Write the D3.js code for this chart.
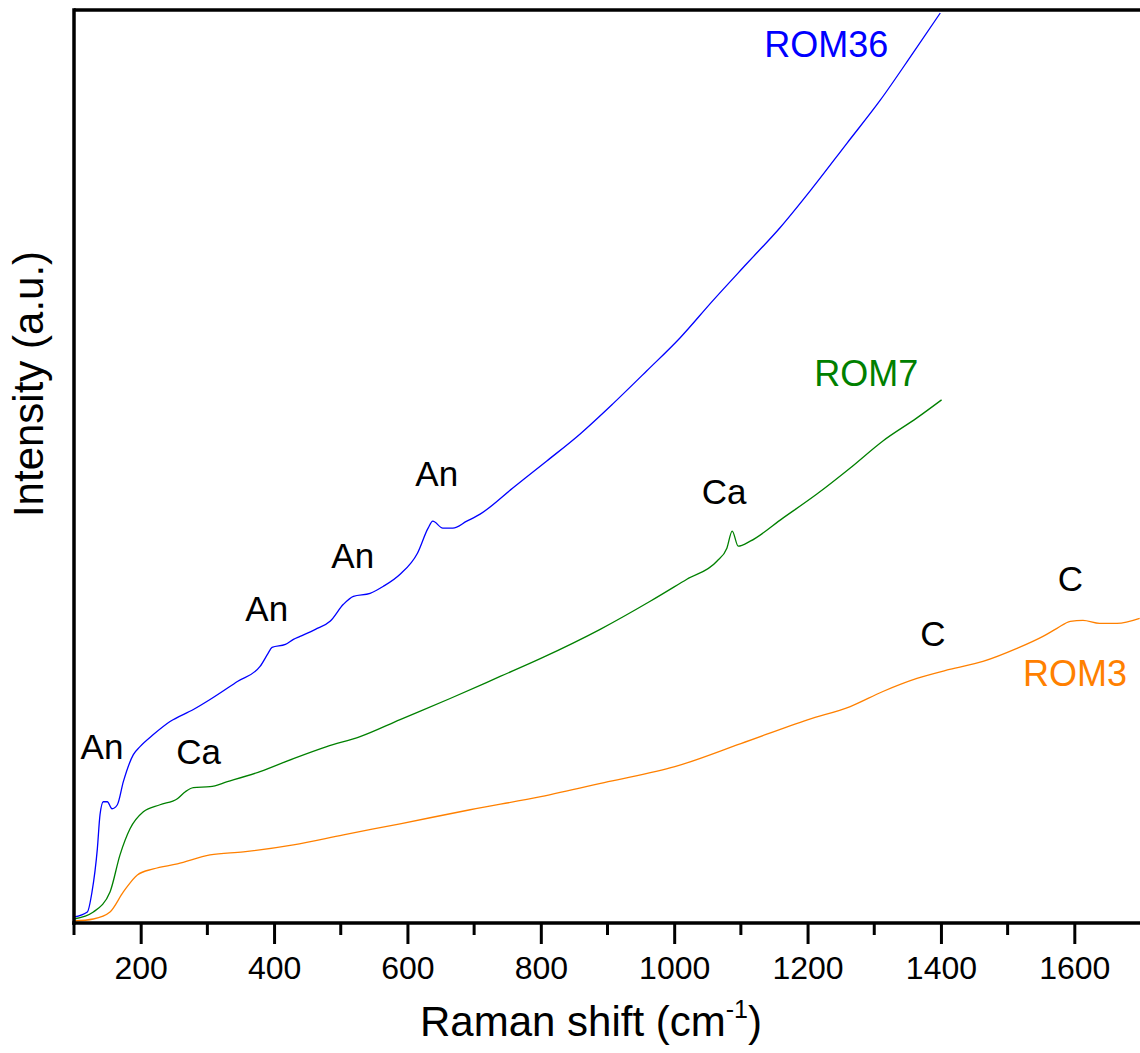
<!DOCTYPE html>
<meta charset="utf-8">
<script src="https://d3js.org/d3.v7.min.js"></script>
<style>
  body { margin: 0; background: #fff; }
  text { font-family: "Liberation Sans", Arial, sans-serif; }
</style>
<div id="chart"></div>
<script>
// Raman spectra (wavenumber cm-1, intensity a.u.)
var rom36X = [100,120,127,135,139,144,150,157,165,174,189,199,219,244,279,304,345,379,391,397,417,429,439,462,484,504,519,544,564,589,615,631,638,653,668,689,709,758,809,859,908,959,1009,1058,1109,1159,1208,1259,1309,1358,1399];
var rom36Y = [6,11,31,74,108,121,121,114,118,141,168,176,188,201,213,223,241,256,269,275,278,283,286,293,301,318,326,329,336,348,369,394,401,394,394,401,408,434,461,488,518,551,584,621,658,694,734,778,821,868,908];

var rom7X = [100,129,154,169,184,204,229,255,267,279,304,330,379,429,479,529,589,664,739,800,889,964,1019,1064,1079,1087,1096,1114,1163,1214,1264,1313,1364,1401];
var rom7Y = [4,11,31,68,94,111,118,124,131,135,136,141,151,164,176,186,203,224,246,264,293,321,343,361,374,391,376,381,404,428,454,481,504,522];

var rom3X = [100,129,154,174,195,219,255,304,354,429,504,589,694,800,901,1001,1100,1201,1264,1313,1364,1413,1463,1514,1553,1574,1594,1613,1638,1664,1698];
var rom3Y = [2,4,11,31,48,54,59,68,71,78,88,99,113,126,141,156,179,203,216,231,244,253,261,274,286,294,301,302,299,299,304];

var xTicks = [200,400,600,800,1000,1200,1400,1600];
var xMinor = [100,300,500,700,900,1100,1300,1500];

// peak labels
var peakText = ["An","Ca","An","An","An","Ca","C","C"];
var peakX = [142,287,389,518,644,1075,1388,1594];
var peakY = [164,159,301,354,436,418,276,331];

var seriesNames = ["ROM36","ROM7","ROM3"];
var seriesColors = ["#0000ff","#008000","#ff8000"];
var nameX = [1228,1288,1523];
var nameY = [864,536,236];

var width = 1140, height = 1053;
var margin = {top: 10, right: -1, bottom: 131, left: 74};

var svg = d3.select("#chart").append("svg")
  .attr("width", width)
  .attr("height", height);

var x = d3.scaleLinear().domain([100, 1700]).range([margin.left, width - margin.right]);
var y = d3.scaleLinear().domain([0, 911]).range([height - margin.bottom + 1, margin.top]);

var line = d3.line()
  .curve(d3.curveMonotoneX)
  .x(function(d) { return x(d[0]); })
  .y(function(d) { return y(d[1]); });

var series = [d3.zip(rom36X, rom36Y), d3.zip(rom7X, rom7Y), d3.zip(rom3X, rom3Y)];

svg.selectAll(".spec")
  .data(series)
  .enter().append("path")
    .attr("class", "spec")
    .attr("d", line)
    .attr("fill", "none")
    .attr("stroke", function(d, i) { return seriesColors[i]; })
    .attr("stroke-width", 1.3);

// frame: left, top, bottom
var y0 = y(0), yTop = y(911);
svg.append("line").attr("x1", x(100)).attr("x2", width).attr("y1", yTop).attr("y2", yTop)
  .attr("stroke", "#000").attr("stroke-width", 3.5);
svg.append("line").attr("x1", x(100)).attr("x2", x(100)).attr("y1", yTop - 1.75).attr("y2", y0 + 1.75)
  .attr("stroke", "#000").attr("stroke-width", 3.5);

var xAxis = svg.append("g").attr("transform", "translate(0," + y0 + ")")
  .call(d3.axisBottom(x).tickValues(xTicks).tickSize(21).tickPadding(12).tickFormat(d3.format("d")));
xAxis.select(".domain").remove();
xAxis.selectAll(".tick line").attr("stroke-width", 3);
xAxis.selectAll(".tick text").attr("font-size", 32).attr("font-family", "Liberation Sans, Arial, sans-serif").attr("fill", "#000");

svg.append("g").selectAll("line").data(xMinor).enter().append("line")
  .attr("x1", function(d) { return x(d); }).attr("x2", function(d) { return x(d); })
  .attr("y1", y0).attr("y2", y0 + 12)
  .attr("stroke", "#000").attr("stroke-width", 3);

svg.append("line").attr("x1", x(100) - 1.75).attr("x2", width).attr("y1", y0).attr("y2", y0)
  .attr("stroke", "#000").attr("stroke-width", 3.5);

// axis titles
var xt = svg.append("text")
  .attr("x", 591).attr("y", 1036)
  .attr("text-anchor", "middle")
  .attr("font-size", 42);
xt.append("tspan").text("Raman shift (cm");
xt.append("tspan").text("-1").attr("font-size", 25).attr("dy", -18);
xt.append("tspan").text(")").attr("dy", 18);

svg.append("text")
  .attr("transform", "translate(43," + 384 + ") rotate(-90)")
  .attr("text-anchor", "middle")
  .attr("font-size", 42)
  .text("Intensity (a.u.)");

// peak labels
svg.selectAll(".peak").data(peakText).enter().append("text")
  .attr("class", "peak")
  .attr("x", function(d, i) { return x(peakX[i]); })
  .attr("y", function(d, i) { return y(peakY[i]); })
  .attr("text-anchor", "middle")
  .attr("font-size", 35)
  .attr("fill", "#000")
  .text(function(d) { return d; });

svg.selectAll(".sname").data(seriesNames).enter().append("text")
  .attr("class", "sname")
  .attr("x", function(d, i) { return x(nameX[i]); })
  .attr("y", function(d, i) { return y(nameY[i]); })
  .attr("text-anchor", function(d, i) { return i == 2 ? "start" : "middle"; })
  .attr("font-size", 36)
  .attr("fill", function(d, i) { return seriesColors[i]; })
  .text(function(d) { return d; });
</script>
